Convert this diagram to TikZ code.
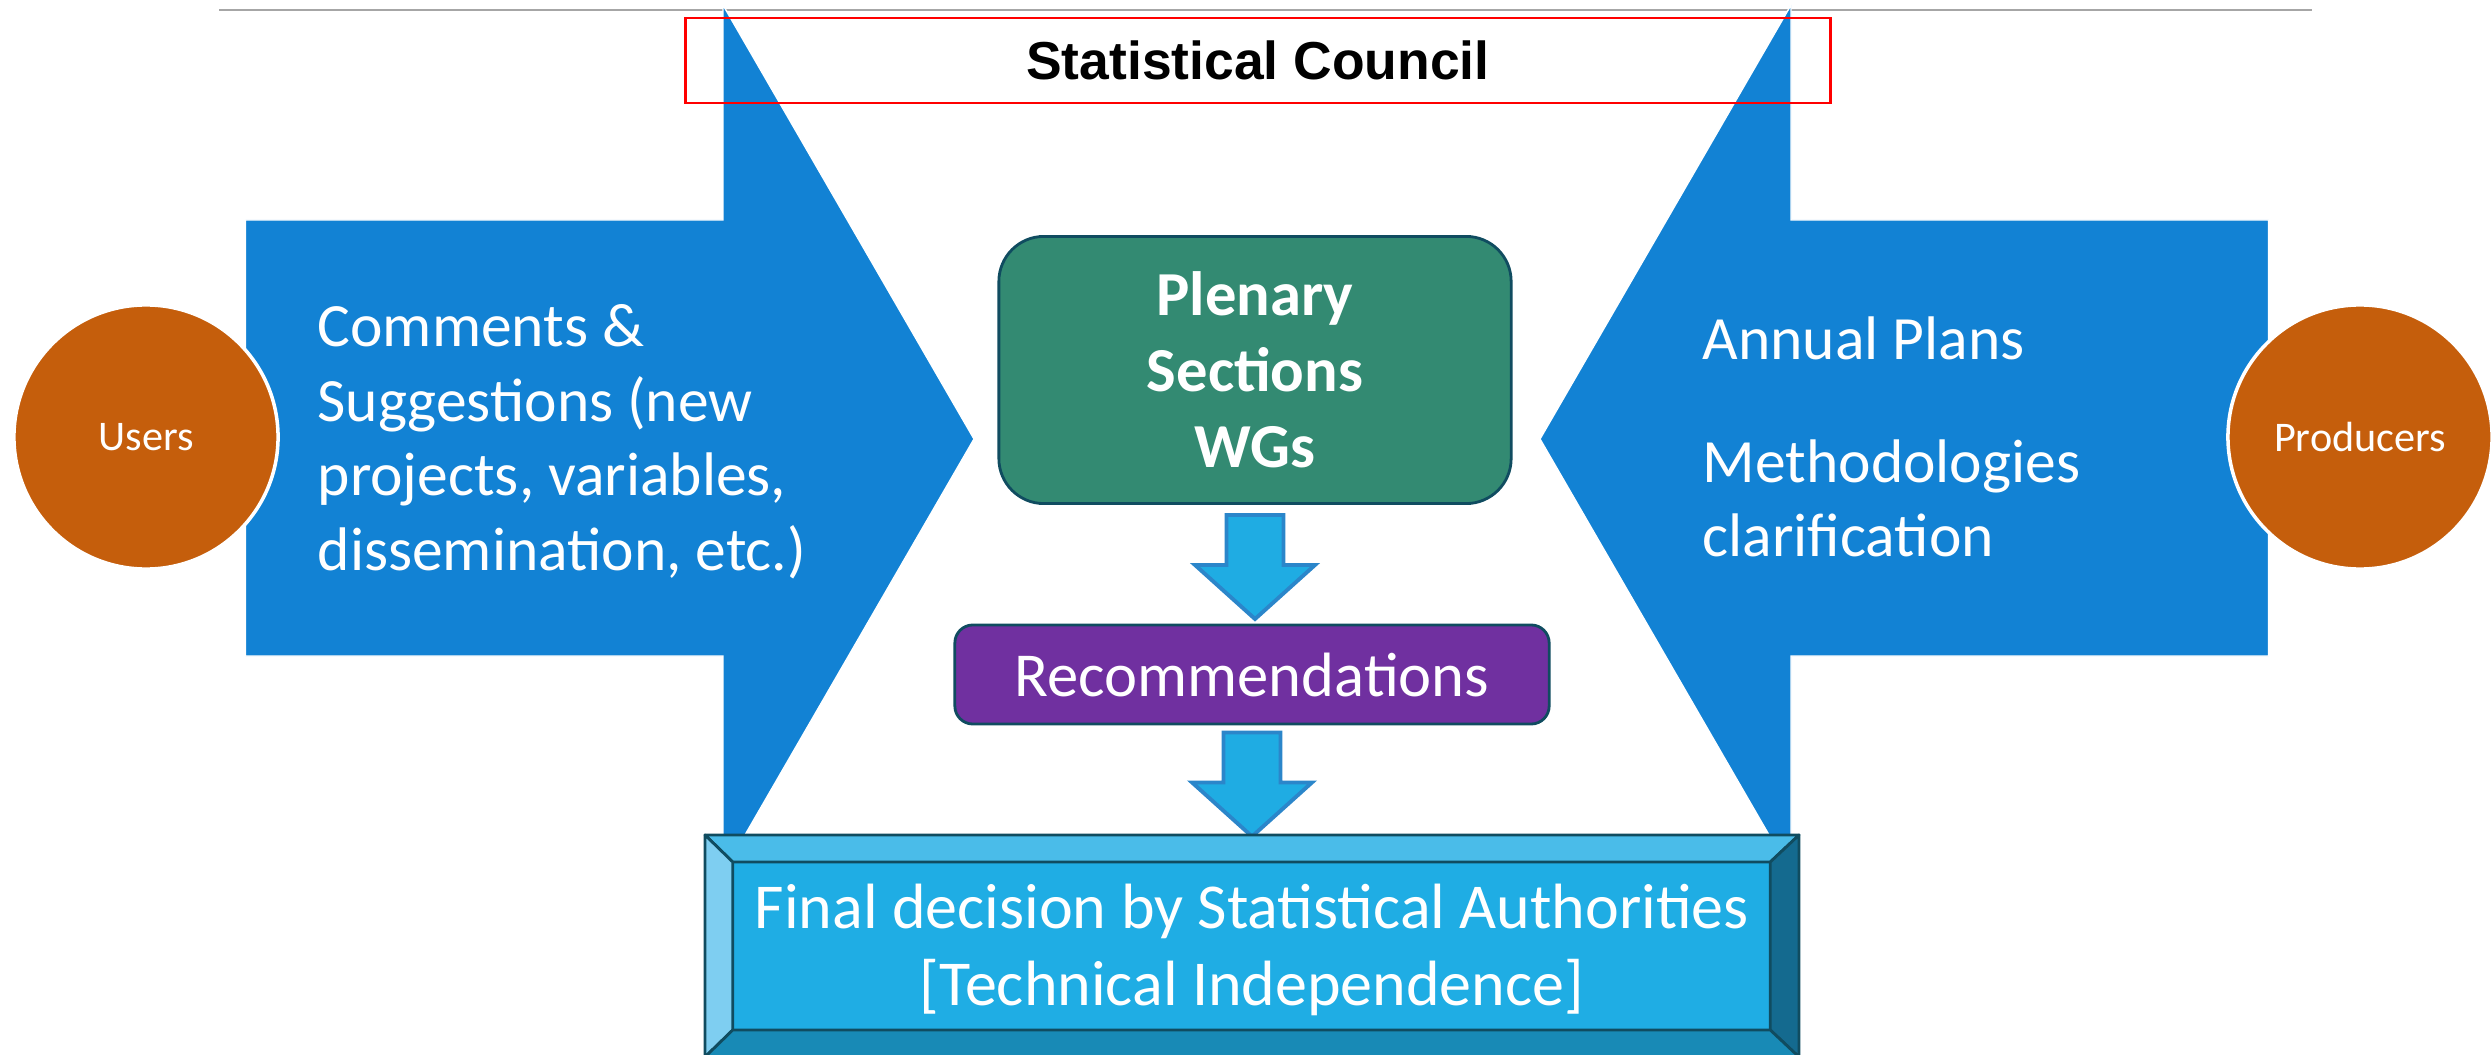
\documentclass[tikz,border=0pt]{standalone}
\usepackage{fontspec}
\setmainfont{Carlito}
\newfontfamily\arialfont{Liberation Sans}
\usetikzlibrary{calc}

\definecolor{arrowblue}{RGB}{18,130,212}
\definecolor{personorange}{RGB}{197,94,12}
\definecolor{plenarygreen}{RGB}{51,138,114}
\definecolor{boxborder}{RGB}{16,76,96}
\definecolor{recpurple}{RGB}{112,48,160}
\definecolor{smallblue}{RGB}{31,172,227}
\definecolor{smallborder}{RGB}{43,134,202}
\definecolor{finalblue}{RGB}{31,173,228}
\definecolor{beveltop}{RGB}{74,188,233}
\definecolor{bevelleft}{RGB}{126,206,241}
\definecolor{bevelright}{RGB}{20,106,143}
\definecolor{bevelbottom}{RGB}{24,138,182}
\definecolor{rulegray}{RGB}{166,166,166}

\begin{document}
\begin{tikzpicture}[x=0.01cm, y=-0.01cm,
    bigarrow/.style={fill=arrowblue, draw=white, line width=0.4pt},
    person/.style={circle, fill=personorange, draw=white, line width=1pt,
        minimum size=2.64cm, inner sep=0pt, text=white,
        font=\fontsize{12}{14}\selectfont},
    flowtext/.style={text=white, align=left, inner sep=0pt,
        font=\fontsize{17.5}{21.2}\selectfont},
    downarrow/.style={fill=smallblue, draw=smallborder, line width=1.1pt,
        line join=miter}]
\useasboundingbox (0,0) rectangle (2491,1055);

\draw[rulegray, line width=0.6pt] (219,10) -- (2312,10);

% the two big block arrows
\path[bigarrow] (245.5,220) -- (723,220) -- (723,5) -- (974,439)
    -- (723,873) -- (723,656) -- (245.5,656) -- cycle;
\path[bigarrow] (2268.5,220) -- (1791,220) -- (1791,5) -- (1540,439)
    -- (1791,873) -- (1791,656) -- (2268.5,656) -- cycle;

\node[person] (users) at (146,437) {Users};
\node[person] (producers) at (2360,437) {Producers};

% base anchor sits on the last line
\node[flowtext, anchor=base west] (comments) at (317,570.5)
    {Comments \&\\Suggestions (new\\projects, variables,\\dissemination, etc.)};
\node[flowtext, anchor=base west] (plans) at (1702,360) {Annual Plans};
\node[flowtext, anchor=base west] (methods) at (1702,557)
    {Methodologies\\clarification};

\node[draw=red, line width=0.8pt, minimum width=11.44cm, minimum height=0.85cm,
    font=\arialfont\bfseries\fontsize{15.2}{18}\selectfont] (council)
    at (1258,60.5) {Statistical Council};

\node[fill=plenarygreen, draw=boxborder, line width=0.8pt, rounded corners=0.45cm,
    minimum width=5.12cm, minimum height=2.67cm, align=center, text=white,
    font=\bfseries\fontsize{17.8}{21.6}\selectfont] (plenary)
    at (1255,370) {Plenary\\Sections\\WGs};

\node[fill=recpurple, draw=boxborder, line width=0.8pt, rounded corners=0.18cm,
    minimum width=5.94cm, minimum height=0.99cm, text=white,
    font=\fontsize{17.8}{21.6}\selectfont] (recs)
    at (1252,674.5) {Recommendations};

\coordinate (a1) at ([yshift=-1mm]plenary.south);
\coordinate (a2) at ([yshift=-0.7mm]recs.south);
\foreach \a in {a1,a2}
    \draw[downarrow] (\a) ++(-28.5,0) -- ++(57,0) -- ++(0,50) -- ++(31.5,0)
        -- ++(-60,54) -- ++(-60,-54) -- ++(31.5,0) -- cycle;

% bevelled box
\node[fill=finalblue, draw=boxborder, line width=0.8pt, outer sep=0pt,
    minimum width=10.37cm, minimum height=1.68cm, text=white] (final)
    at (1251.5,946) {};
\node[align=center, text=white, font=\fontsize{18.2}{22}\selectfont] (finaltext)
    at (1252,950) {Final decision by Statistical Authorities\\{[}Technical Independence{]}};
\coordinate (onw) at (705,835);
\coordinate (one) at (1799,835);
\coordinate (ose) at (1799,1057);
\coordinate (osw) at (705,1057);
\begin{scope}[draw=boxborder, line width=0.8pt, line join=round]
\filldraw[fill=beveltop] (onw) -- (one) -- (final.north east) -- (final.north west) -- cycle;
\filldraw[fill=bevelleft] (onw) -- (final.north west) -- (final.south west) -- (osw) -- cycle;
\filldraw[fill=bevelright] (one) -- (ose) -- (final.south east) -- (final.north east) -- cycle;
\filldraw[fill=bevelbottom] (osw) -- (final.south west) -- (final.south east) -- (ose) -- cycle;
\end{scope}
\end{tikzpicture}
\end{document}
